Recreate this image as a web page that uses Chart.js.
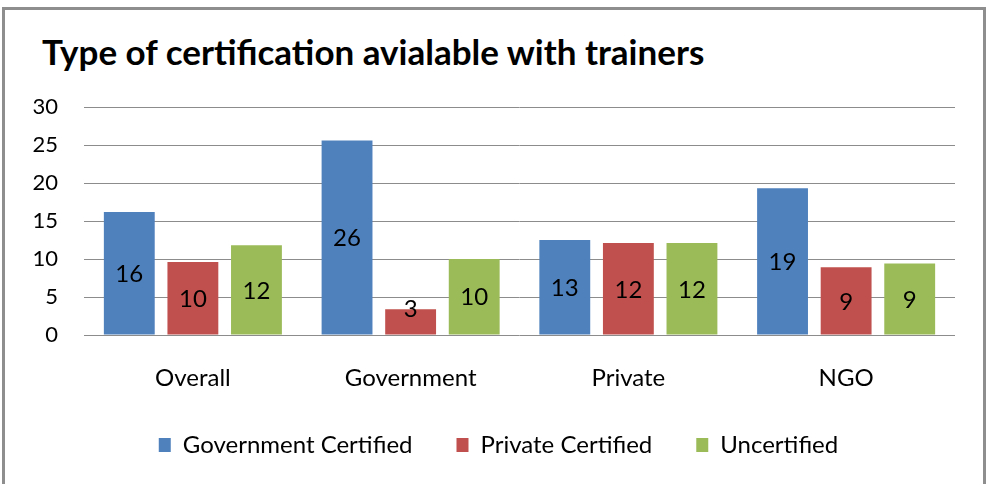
<!DOCTYPE html>
<html>
<head>
<meta charset="utf-8">
<title>Type of certification</title>
<script src="https://cdn.jsdelivr.net/npm/chart.js@4.4.0/dist/chart.umd.min.js"></script>
<style>
    body { margin: 0; background: #fff; }
    #wrap { position: relative; width: 986px; height: 484px; overflow: hidden; }
    #marco { position: absolute; left: 2px; top: 7px; width: 978px; height: 520px; border: 3px solid #8e8e8e; }
    #titulo { position: absolute; left: 42px; top: 34px; font: bold 35px Lato, sans-serif; line-height: 35px; color: #000; white-space: nowrap; }
    canvas { position: absolute; left: 0; top: 0; }
</style>
</head>
<body>
<div id="wrap">
    <div id="marco"></div>
    <div id="titulo">Type of certification avialable with trainers</div>
    <canvas id="grafico" width="986" height="484"></canvas>
</div>
<script>
// --- DATOS ---
const categorias = ['Overall', 'Government', 'Private', 'NGO'];
const seriesNombres = ['Government Certified', 'Private Certified', 'Uncertified'];
const govCertified = [16.2, 25.6, 12.5, 19.3];
const privCertified = [9.6, 3.4, 12.1, 8.9];
const uncertified = [11.8, 10.0, 12.1, 9.4];
const colores = ['#4F81BD', '#C0504D', '#9BBB59'];
const yTicks = [0, 5, 10, 15, 20, 25, 30];

// etiquetas dentro de las barras (valor redondeado, al centro)
const etiquetasBarras = {
    id: 'etiquetasBarras',
    afterLayout(chart) {
        // la leyenda del original esta un poco corrida a la derecha
        chart.legend.left += 21;
        chart.legend.right += 21;
    },
    afterDatasetsDraw(chart) {
        const ctx = chart.ctx;
        ctx.save();
        ctx.font = '24px Lato, sans-serif';
        ctx.fillStyle = '#000';
        ctx.textAlign = 'center';
        ctx.textBaseline = 'middle';
        chart.data.datasets.forEach((ds, i) => {
            chart.getDatasetMeta(i).data.forEach((bar, j) => {
                let y = (bar.y + bar.base) / 2 + 1;
                // barras muy bajas: la etiqueta sube un poco
                if (bar.base - bar.y < 30) y = bar.base - 25;
                ctx.fillText(Math.round(ds.data[j]), bar.x, y);
            });
        });
        ctx.restore();
    }
};

const seriesDatos = [govCertified, privCertified, uncertified];

new Chart(document.getElementById('grafico'), {
    type: 'bar',
    data: {
        labels: categorias,
        datasets: seriesNombres.map((nombre, i) => ({
            label: nombre,
            data: seriesDatos[i],
            backgroundColor: colores[i],
            borderWidth: 0,
            barPercentage: 0.8,
            categoryPercentage: 0.876
        }))
    },
    options: {
        responsive: false,
        animation: false,
        layout: { padding: { top: 107, right: 31, bottom: 17, left: 0 } },
        scales: {
            x: {
                grid: { display: false },
                border: { display: false },
                ticks: { color: '#000', padding: 21, font: { family: 'Lato', size: 24 } },
                afterFit(scale) { scale.height = 54; }
            },
            y: {
                min: 0,
                max: 30,
                afterBuildTicks(scale) { scale.ticks = yTicks.map(v => ({ value: v })); },
                grid: { color: '#8c8c8c', lineWidth: 1, drawTicks: false },
                border: { display: false },
                ticks: { color: '#000', padding: 26, font: { family: 'Lato', size: 22 } },
                afterFit(scale) { scale.width = 84; }
            }
        },
        plugins: {
            legend: {
                position: 'bottom',
                labels: {
                    boxWidth: 12,
                    boxHeight: 14,
                    padding: 44,
                    color: '#000',
                    font: { family: 'Lato', size: 24 }
                }
            },
            tooltip: { enabled: false }
        }
    },
    plugins: [etiquetasBarras]
});
</script>
</body>
</html>
